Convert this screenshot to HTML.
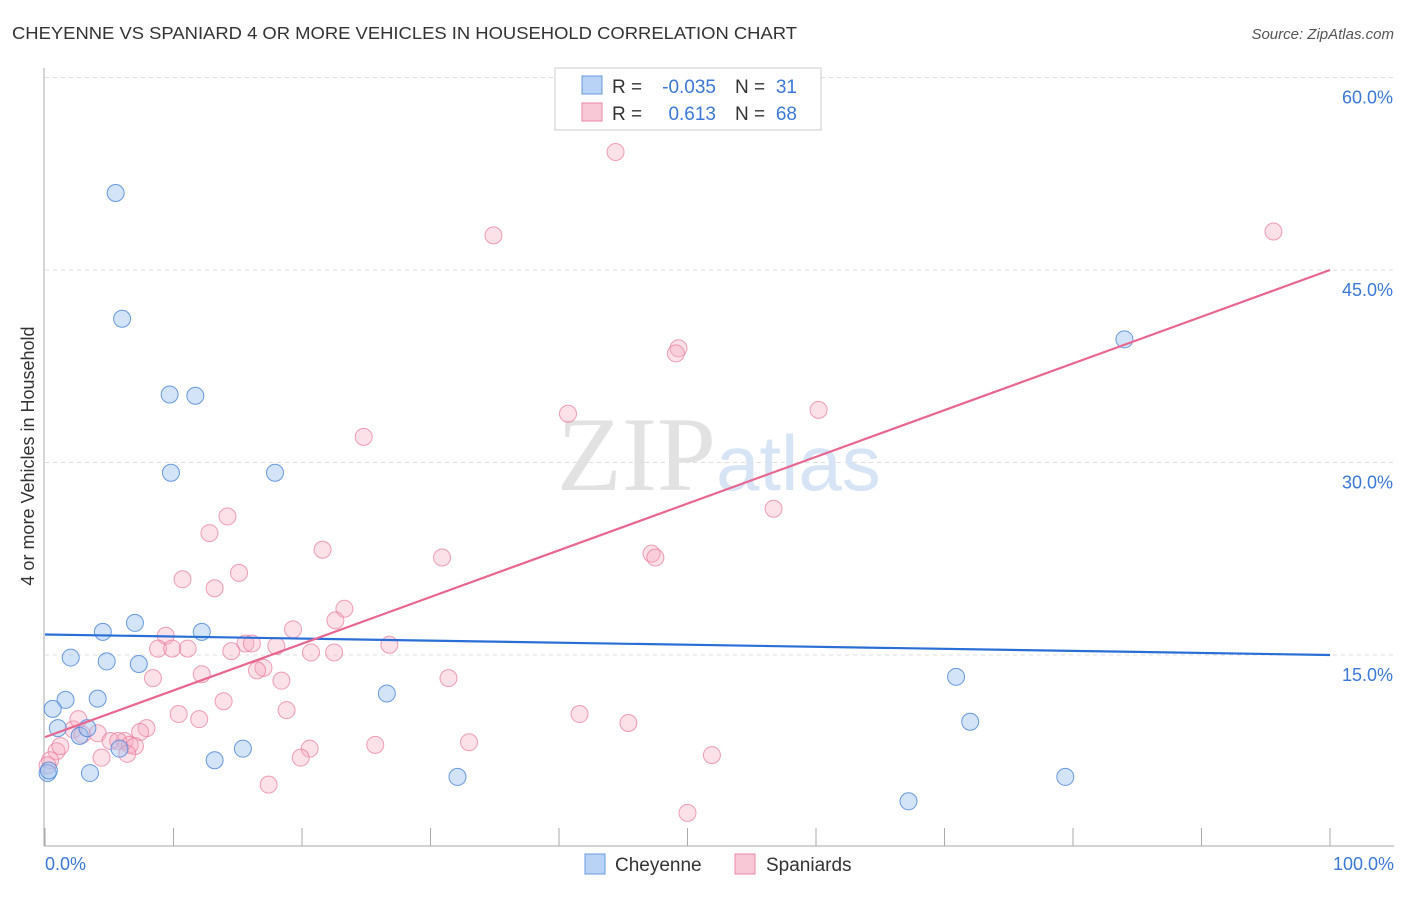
<!DOCTYPE html>
<html><head><meta charset="utf-8"><style>
body{margin:0;background:#fff;font-family:"Liberation Sans",sans-serif}
svg text{font-family:"Liberation Sans",sans-serif}
</style></head><body>
<svg width="1406" height="892" xmlns="http://www.w3.org/2000/svg">
<text x="12" y="39" font-size="17.5" fill="#333" textLength="785" lengthAdjust="spacingAndGlyphs">CHEYENNE VS SPANIARD 4 OR MORE VEHICLES IN HOUSEHOLD CORRELATION CHART</text>
<text x="1394" y="39" font-size="15" fill="#555" font-style="italic" text-anchor="end">Source: ZipAtlas.com</text>
<g id="grid"></g>
<line x1="44" y1="68" x2="44" y2="846" stroke="#aaa"/>
<line x1="44" y1="846" x2="1394" y2="846" stroke="#aaa"/>
<text x="716" y="490" font-size="106" fill="#e2e2e2" text-anchor="end" style="font-family:'Liberation Serif',serif">ZIP</text>
<text x="716" y="490" font-size="78" fill="#d6e4f5">atlas</text>
<g id="pts"></g>
<g id="lines"></g>
<text transform="translate(34,456) rotate(-90)" font-size="18" fill="#333" text-anchor="middle">4 or more Vehicles in Household</text>
<text x="45" y="870" font-size="18" fill="#3b78d8">0.0%</text>
<text x="1394" y="870" font-size="18" fill="#3b78d8" text-anchor="end">100.0%</text>
<g>
<rect x="555" y="68" width="266" height="62" fill="#fff" stroke="#ccc"/>
<rect x="582" y="76" width="20" height="18" fill="#b8d3f5" stroke="#6a9be0"/>
<rect x="582" y="103" width="20" height="18" fill="#f9c8d6" stroke="#e98aa8"/>
<text x="612" y="93" font-size="19" fill="#333">R =</text>
<text x="716" y="93" font-size="19" fill="#3b78d8" text-anchor="end">-0.035</text>
<text x="735" y="93" font-size="19" fill="#333">N =</text>
<text x="797" y="93" font-size="19" fill="#3b78d8" text-anchor="end">31</text>
<text x="612" y="120" font-size="19" fill="#333">R =</text>
<text x="716" y="120" font-size="19" fill="#3b78d8" text-anchor="end">0.613</text>
<text x="735" y="120" font-size="19" fill="#333">N =</text>
<text x="797" y="120" font-size="19" fill="#3b78d8" text-anchor="end">68</text>
</g>
<g>
<rect x="585" y="854" width="20" height="20" fill="#b8d3f5" stroke="#6a9be0"/>
<text x="615" y="871" font-size="19" fill="#333">Cheyenne</text>
<rect x="735" y="854" width="20" height="20" fill="#f9c8d6" stroke="#e98aa8"/>
<text x="766" y="871" font-size="19" fill="#333">Spaniards</text>
</g>
</svg>
<script>
const yTicks=[15,30,45,60];
const xTickVals=[0,10,20,30,40,50,60,70,80,90,100];
const blueX=[5.5,6.0,9.7,11.7,9.8,17.9,4.5,7.0,12.2,2.0,4.8,7.3,1.6,4.1,0.6,1.0,2.7,3.3,5.8,3.5,0.2,13.2,15.4,26.6,32.1,70.9,72.0,79.4,67.2,84.0,0.3];
const blueY=[51.0,41.2,35.3,35.2,29.2,29.2,16.8,17.5,16.8,14.8,14.5,14.3,11.5,11.6,10.8,9.3,8.7,9.3,7.7,5.8,5.8,6.8,7.7,12.0,5.5,13.3,9.8,5.5,3.6,39.6,6.0];
const pinkX=[44.4,34.9,95.6,49.3,49.1,60.2,40.7,24.8,56.7,14.2,12.8,21.6,30.9,47.2,47.5,15.1,10.7,13.2,23.3,22.6,19.3,9.4,15.6,16.1,18.0,8.8,11.1,9.9,14.5,20.7,22.5,26.8,17.0,16.5,12.2,8.4,18.4,31.4,13.9,10.4,18.8,12.0,41.6,45.4,7.9,7.4,2.2,4.1,2.9,6.2,5.1,5.7,6.6,33.0,25.7,7.0,20.6,0.9,1.2,2.6,4.4,6.4,19.9,51.9,17.4,50.0,0.4,0.2];
const pinkY=[54.2,47.7,48.0,38.9,38.5,34.1,33.8,32.0,26.4,25.8,24.5,23.2,22.6,22.9,22.6,21.4,20.9,20.2,18.6,17.7,17.0,16.5,15.9,15.9,15.7,15.5,15.5,15.5,15.3,15.2,15.2,15.8,14.0,13.8,13.5,13.2,13.0,13.2,11.4,10.4,10.7,10.0,10.4,9.7,9.3,9.0,9.2,8.9,8.8,8.3,8.3,8.3,8.0,8.2,8.0,7.9,7.7,7.5,7.9,10.0,7.0,7.3,7.0,7.2,4.9,2.7,6.8,6.4];
const blueTrend=[16.6,15.0];
const pinkTrend=[8.6,45.0];
const NS='http://www.w3.org/2000/svg';
const X=v=>45+v*12.85, Y=v=>847.5-v*12.833;
function mk(t,a,p){const e=document.createElementNS(NS,t);for(const k in a)e.setAttribute(k,a[k]);p.appendChild(e);return e;}
const grid=document.getElementById('grid');
yTicks.forEach(t=>{
 const l=mk('line',{x1:45,x2:1394,y1:Y(t),y2:Y(t),stroke:'#ddd','stroke-dasharray':'4 4'},grid);
 
 
 const tx=mk('text',{x:1393,y:Y(t)+26,'font-size':18,fill:'#3b78d8','text-anchor':'end'},grid);
 tx.textContent=t.toFixed(1)+'%';
 
 
});
xTickVals.forEach(t=>{
 const l=mk('line',{x1:X(t),x2:X(t),y1:828,y2:846,stroke:'#aaa'},grid);
 
 
});
const pts=document.getElementById('pts');
pinkX.forEach((x,i)=>{
 const c=mk('circle',{cx:X(x),cy:Y(pinkY[i]),r:8.5,fill:'rgba(246,170,192,0.35)',stroke:'rgba(232,120,155,0.7)','stroke-width':1},pts);
 
 
});
blueX.forEach((x,i)=>{
 const c=mk('circle',{cx:X(x),cy:Y(blueY[i]),r:8.5,fill:'rgba(160,195,240,0.45)',stroke:'rgba(70,130,215,0.8)','stroke-width':1},pts);
 
 
});
const lines=document.getElementById('lines');
const bl=mk('line',{x1:X(0),y1:Y(blueTrend[0]),x2:X(100),y2:Y(blueTrend[1]),stroke:'#2a6fd6','stroke-width':2.2},lines);


const pl=mk('line',{x1:X(0),y1:Y(pinkTrend[0]),x2:X(100),y2:Y(pinkTrend[1]),stroke:'#e86790','stroke-width':2.2},lines);


</script>
</body></html>
